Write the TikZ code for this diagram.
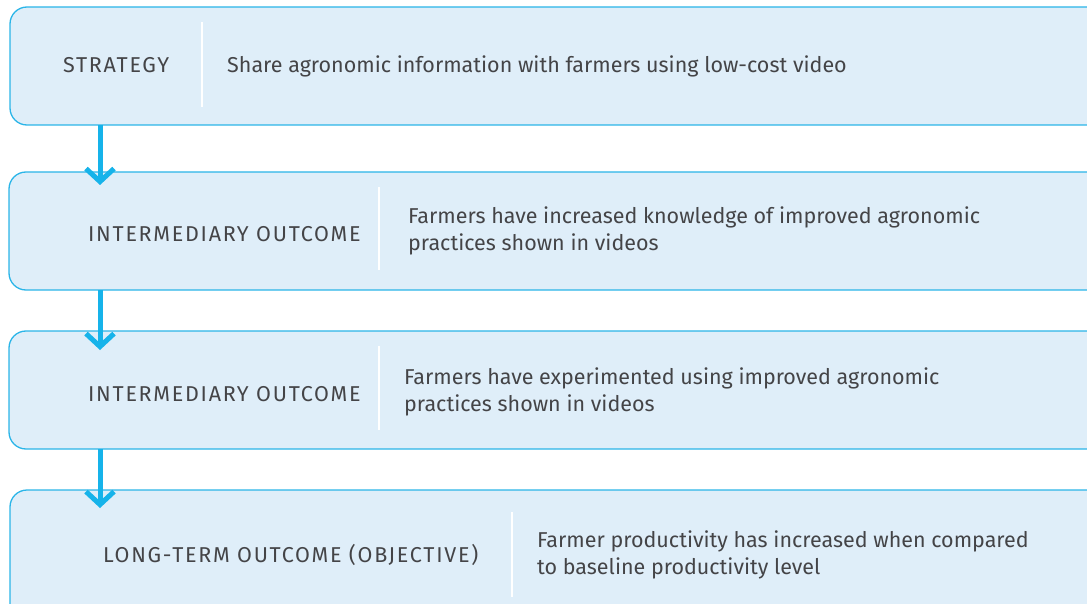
\documentclass[tikz,border=0pt]{standalone}
\usepackage{fontspec}
\setmainfont{Fira Sans}
\newfontfamily\capsfont[LetterSpace=8]{Fira Sans}
\usetikzlibrary{arrows.meta}
\definecolor{boxfill}{HTML}{DFEEF9}
\definecolor{boxline}{HTML}{2BB5E8}
\definecolor{arrowcol}{HTML}{16B3EA}
\definecolor{txt}{HTML}{444447}
\begin{document}
\begin{tikzpicture}[x=1pt,y=-1pt,
  box/.style={draw=boxline, fill=boxfill, line width=1.3pt, rounded corners=17pt,
    minimum width=1110pt, minimum height=118pt, anchor=north west, inner sep=0pt, outer sep=0pt},
  lbl/.style={anchor=base west, text=txt, font=\capsfont\fontsize{21.5}{27}\selectfont, inner sep=0pt},
  desc/.style={anchor=base west, text=txt, font=\fontsize{21.5}{27}\selectfont, inner sep=0pt, align=left},
  divider/.style={draw=white, line width=2.5pt},
  arr/.style={draw=arrowcol, line width=5pt, -{Straight Barb[length=13pt, width=28pt]}}]
\useasboundingbox (0,0) rectangle (1087,604);
\clip (0,0) rectangle (1087,604);
% boxes
\node[box] (b1) at (10,7) {};
\node[box] (b2) at (9,172) {};
\node[box] (b3) at (9,331) {};
\node[box, minimum height=140pt] (b4) at (10,490) {};
% dividers
\draw[divider] (202,22) -- (202,107);
\draw[divider] (379,187) -- (379,270);
\draw[divider] (379,346) -- (379,430);
\draw[divider] (512,512) -- (512,597);
% labels
\node[lbl] (l1) at (63,72.5) {STRATEGY};
\node[desc] (d1) at (227,72.5) {Share agronomic information with farmers using low-cost video};
\node[lbl] (l2) at (88,241) {INTERMEDIARY OUTCOME};
\node[desc] (d2) at (408,251) {Farmers have increased knowledge of improved agronomic\\practices shown in videos};
\node[lbl] (l3) at (88,401) {INTERMEDIARY OUTCOME};
\node[desc] (d3) at (404,411) {Farmers have experimented using improved agronomic\\practices shown in videos};
\node[lbl] (l4) at (103,562) {LONG-TERM OUTCOME (OBJECTIVE)};
\node[desc] (d4) at (537,574) {Farmer productivity has increased when compared\\to baseline productivity level};
% arrows
\coordinate (t1) at (100,185);
\coordinate (t2) at (100,350);
\coordinate (t3) at (100,508);
\draw[arr] (t1 |- b1.south) -- (t1);
\draw[arr] (t2 |- b2.south) -- (t2);
\draw[arr] (t3 |- b3.south) -- (t3);
\end{tikzpicture}
\end{document}
